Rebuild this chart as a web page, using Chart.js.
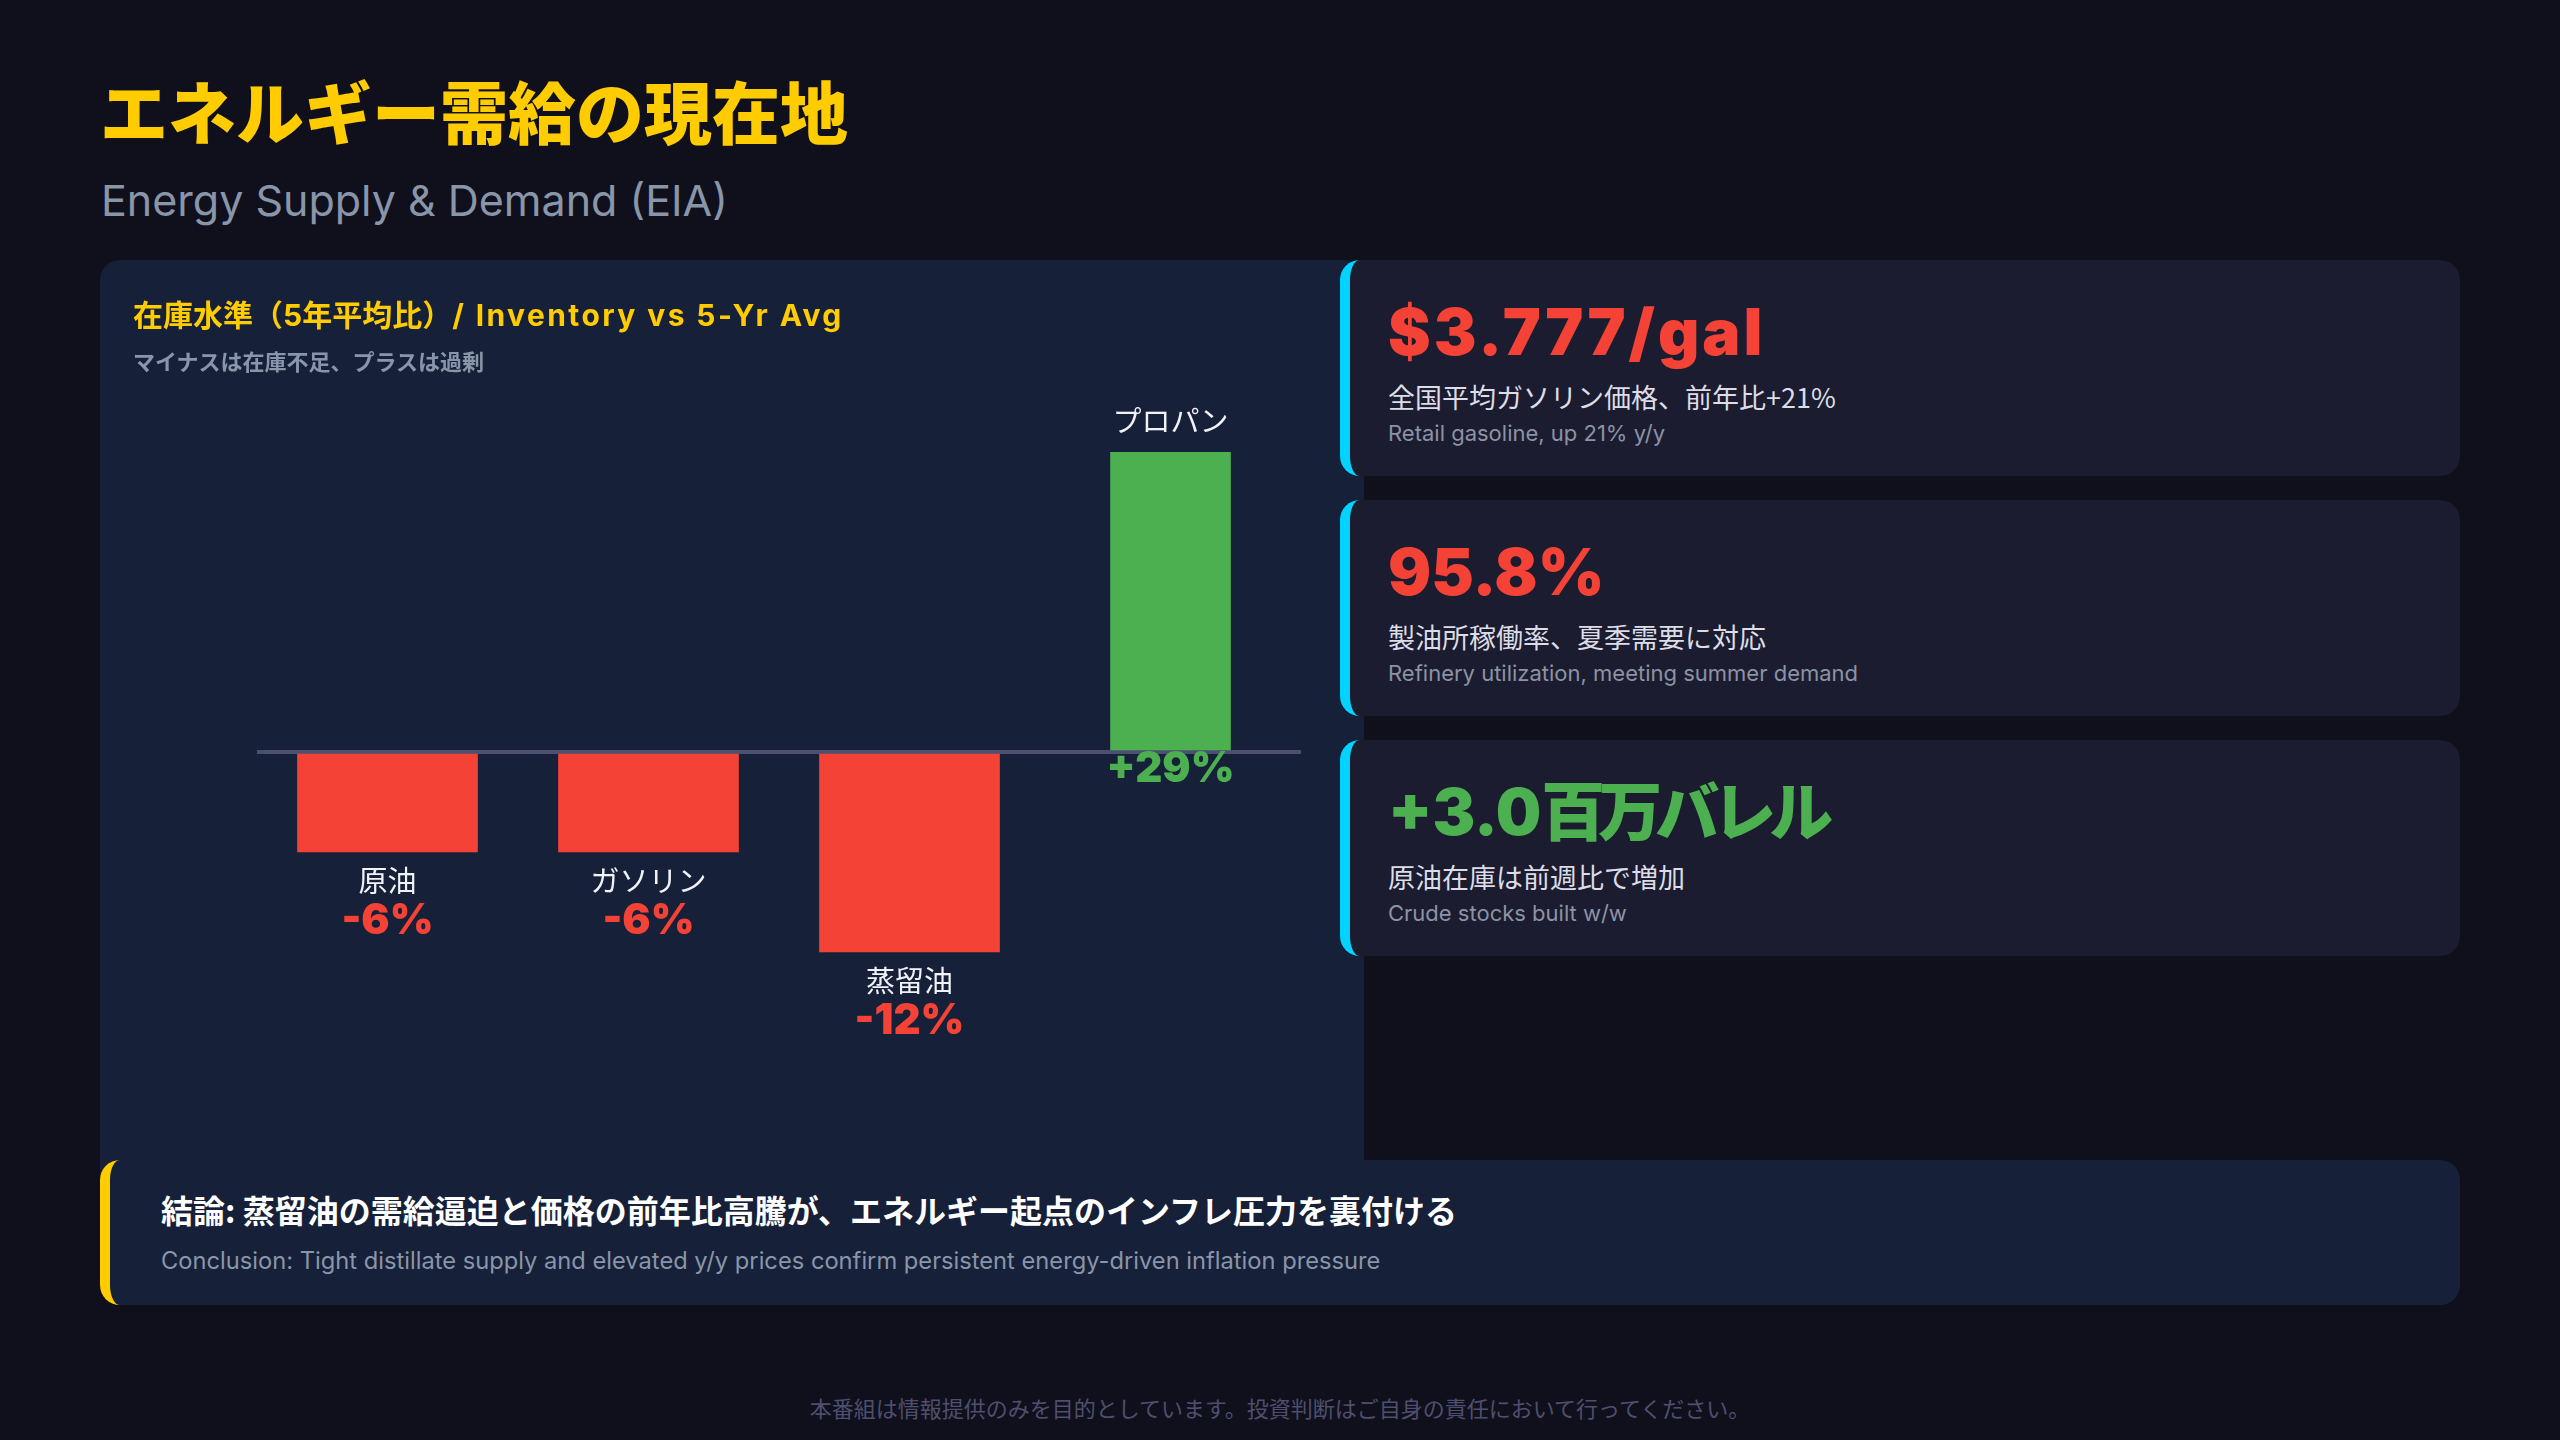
<!DOCTYPE html>
<html lang="ja">
<head>
<meta charset="utf-8">
<title>エネルギー需給の現在地</title>
<script src="https://cdn.jsdelivr.net/npm/chart.js@4.4.1/dist/chart.umd.min.js"></script>
<style>
  html, body { margin: 0; padding: 0; }
  body {
    width: 2560px; height: 1440px; position: relative; overflow: hidden;
    background: #10101d; font-family: Inter, "Noto Sans CJK JP", sans-serif;
  }
  .title {
    position: absolute; left: 100px; top: 76px; line-height: 1;
    font-family: "Noto Sans CJK JP"; font-size: 68px; font-weight: 900; color: #ffcc00;
  }
  .subtitle {
    position: absolute; left: 101px; top: 179px; line-height: 1;
    font-size: 43px; font-weight: 400; color: #8995a8;
  }
  .panel {
    position: absolute; left: 100px; top: 260px; width: 1264px; height: 920px;
    background: #162039; border-radius: 20px 20px 0 0;
  }
  .panel h2 {
    position: absolute; left: 33px; top: 40px; margin: 0; line-height: 1; white-space: nowrap;
    font-family: Inter, "Noto Sans CJK JP"; font-size: 30px; font-weight: 700; color: #ffcc00;
  }
  .panel h2 span { letter-spacing: 2.4px; }
  .panel p {
    position: absolute; left: 33px; top: 89px; margin: 0; line-height: 1;
    font-family: "Noto Sans CJK JP"; font-size: 22px; font-weight: 700; color: #8995a8;
  }
  #chart { position: absolute; left: 0; top: 0; }
  .card {
    position: absolute; left: 1340px; width: 1110px; height: 216px;
    background: #1b1c2f; border-left: 10px solid #00d4ff; border-radius: 20px;
  }
  .card .big {
    position: absolute; left: 38px; top: 40px; line-height: 1; white-space: nowrap;
    font-size: 64px; font-weight: 900;
  }
  .card .jp {
    position: absolute; left: 38px; top: 123px; line-height: 1;
    font-family: "Noto Sans CJK JP"; font-size: 27px; color: #dcdde6;
  }
  .card .en {
    position: absolute; left: 38px; top: 162px; line-height: 1;
    font-size: 22px; color: #8b93a5;
  }
  .red { color: #f44336; }
  .green { color: #4caf50; }
  .conclusion {
    position: absolute; left: 100px; top: 1160px; width: 2350px; height: 145px;
    background: #162039; border-left: 10px solid #ffcc00; border-radius: 20px;
  }
  .conclusion .jp {
    position: absolute; left: 51px; top: 33px; line-height: 1;
    font-family: "Noto Sans CJK JP"; font-size: 32px; font-weight: 700; color: #ffffff;
  }
  .conclusion .en {
    position: absolute; left: 51px; top: 89px; line-height: 1;
    font-size: 23.7px; color: #8995a8;
  }
  .footer {
    position: absolute; left: 0; width: 2560px; top: 1396px; line-height: 1; text-align: center;
    font-family: "Noto Sans CJK JP"; font-size: 22px; color: #4e4f6e;
  }
</style>
</head>
<body>
<div class="title">エネルギー需給の現在地</div>
<div class="subtitle">Energy Supply &amp; Demand (EIA)</div>

<div class="panel">
  <canvas id="chart" width="1264" height="900"></canvas>
  <h2>在庫水準（5年平均比）<span>/ Inventory vs 5-Yr Avg</span></h2>
  <p>マイナスは在庫不足、プラスは過剰</p>
</div>

<div class="card" style="top:260px">
  <div class="big red" style="letter-spacing:3px">$3.777/gal</div>
  <div class="jp">全国平均ガソリン価格、前年比+21%</div>
  <div class="en">Retail gasoline, up 21% y/y</div>
</div>
<div class="card" style="top:500px">
  <div class="big red">95.8%</div>
  <div class="jp">製油所稼働率、夏季需要に対応</div>
  <div class="en">Refinery utilization, meeting summer demand</div>
</div>
<div class="card" style="top:740px">
  <div class="big green">+3.0<span style="letter-spacing:-7px">百万バレル</span></div>
  <div class="jp">原油在庫は前週比で増加</div>
  <div class="en">Crude stocks built w/w</div>
</div>

<div class="conclusion">
  <div class="jp">結論: 蒸留油の需給逼迫と価格の前年比高騰が、エネルギー起点のインフレ圧力を裏付ける</div>
  <div class="en">Conclusion: Tight distillate supply and elevated y/y prices confirm persistent energy-driven inflation pressure</div>
</div>

<div class="footer">本番組は情報提供のみを目的としています。投資判断はご自身の責任において行ってください。</div>

<script>
// inventory vs 5-year average, percent
const categories = ['原油', 'ガソリン', '蒸留油', 'プロパン'];
const inventoryVs5yr = [-6, -6, -12, 29];
// visible range of the value axis (propane runs past the top)
const axisMin = -18;
const axisMax = 18;

const red = '#f44336';
const green = '#4caf50';

const fmtPct = (v) => (v > 0 ? '+' : '') + v + '%';

// names and values drawn next to each bar
const barLabels = {
    id: 'barLabels',
    afterDatasetsDraw(chart) {
        const { ctx, chartArea } = chart;
        chart.data.datasets.forEach((ds, di) => {
            chart.getDatasetMeta(di).data.forEach((bar, i) => {
                const v = ds.data[i];
                if (v === null) return;
                ctx.save();
                ctx.textAlign = 'center';
                ctx.textBaseline = 'middle';
                const nameFont = '400 29px "Noto Sans CJK JP"';
                const valueFont = '900 42px Inter, "Noto Sans CJK JP"';
                if (v < 0) {
                    ctx.font = nameFont;
                    ctx.fillStyle = '#f2f3f8';
                    ctx.fillText(categories[i], bar.x, bar.y + 29);
                    ctx.font = valueFont;
                    ctx.fillStyle = red;
                    ctx.fillText(fmtPct(v), bar.x, bar.y + 69);
                } else {
                    const top = Math.max(bar.y, chartArea.top);
                    ctx.font = nameFont;
                    ctx.fillStyle = '#f2f3f8';
                    ctx.fillText(categories[i], bar.x, top - 31);
                    ctx.font = valueFont;
                    ctx.fillStyle = green;
                    ctx.fillText(fmtPct(v), bar.x, bar.base + 19);
                }
                ctx.restore();
            });
        });
    }
};

new Chart(document.getElementById('chart'), {
    type: 'bar',
    data: {
        labels: categories,
        datasets: [
            {
                label: 'shortfall',
                data: inventoryVs5yr.map((v) => (v < 0 ? v : null)),
                backgroundColor: red,
                barThickness: 180,
                grouped: false,
                clip: 0
            },
            {
                label: 'surplus',
                data: inventoryVs5yr.map((v) => (v >= 0 ? v : null)),
                backgroundColor: green,
                barThickness: 120,
                grouped: false,
                clip: 0
            }
        ]
    },
    options: {
        responsive: false,
        animation: false,
        devicePixelRatio: 1,
        layout: { padding: { left: 157, right: 63, top: 192, bottom: 108 } },
        plugins: {
            legend: { display: false },
            tooltip: { enabled: false }
        },
        scales: {
            x: { display: false },
            y: {
                min: axisMin,
                max: axisMax,
                afterFit: (scale) => { scale.width = 0; },
                ticks: { display: false, stepSize: 6 },
                border: { display: false },
                grid: {
                    drawTicks: false,
                    lineWidth: 4,
                    color: (c) => (c.tick && c.tick.value === 0 ? '#4b4f72' : 'transparent')
                }
            }
        }
    },
    plugins: [barLabels]
});
</script>
</body>
</html>
